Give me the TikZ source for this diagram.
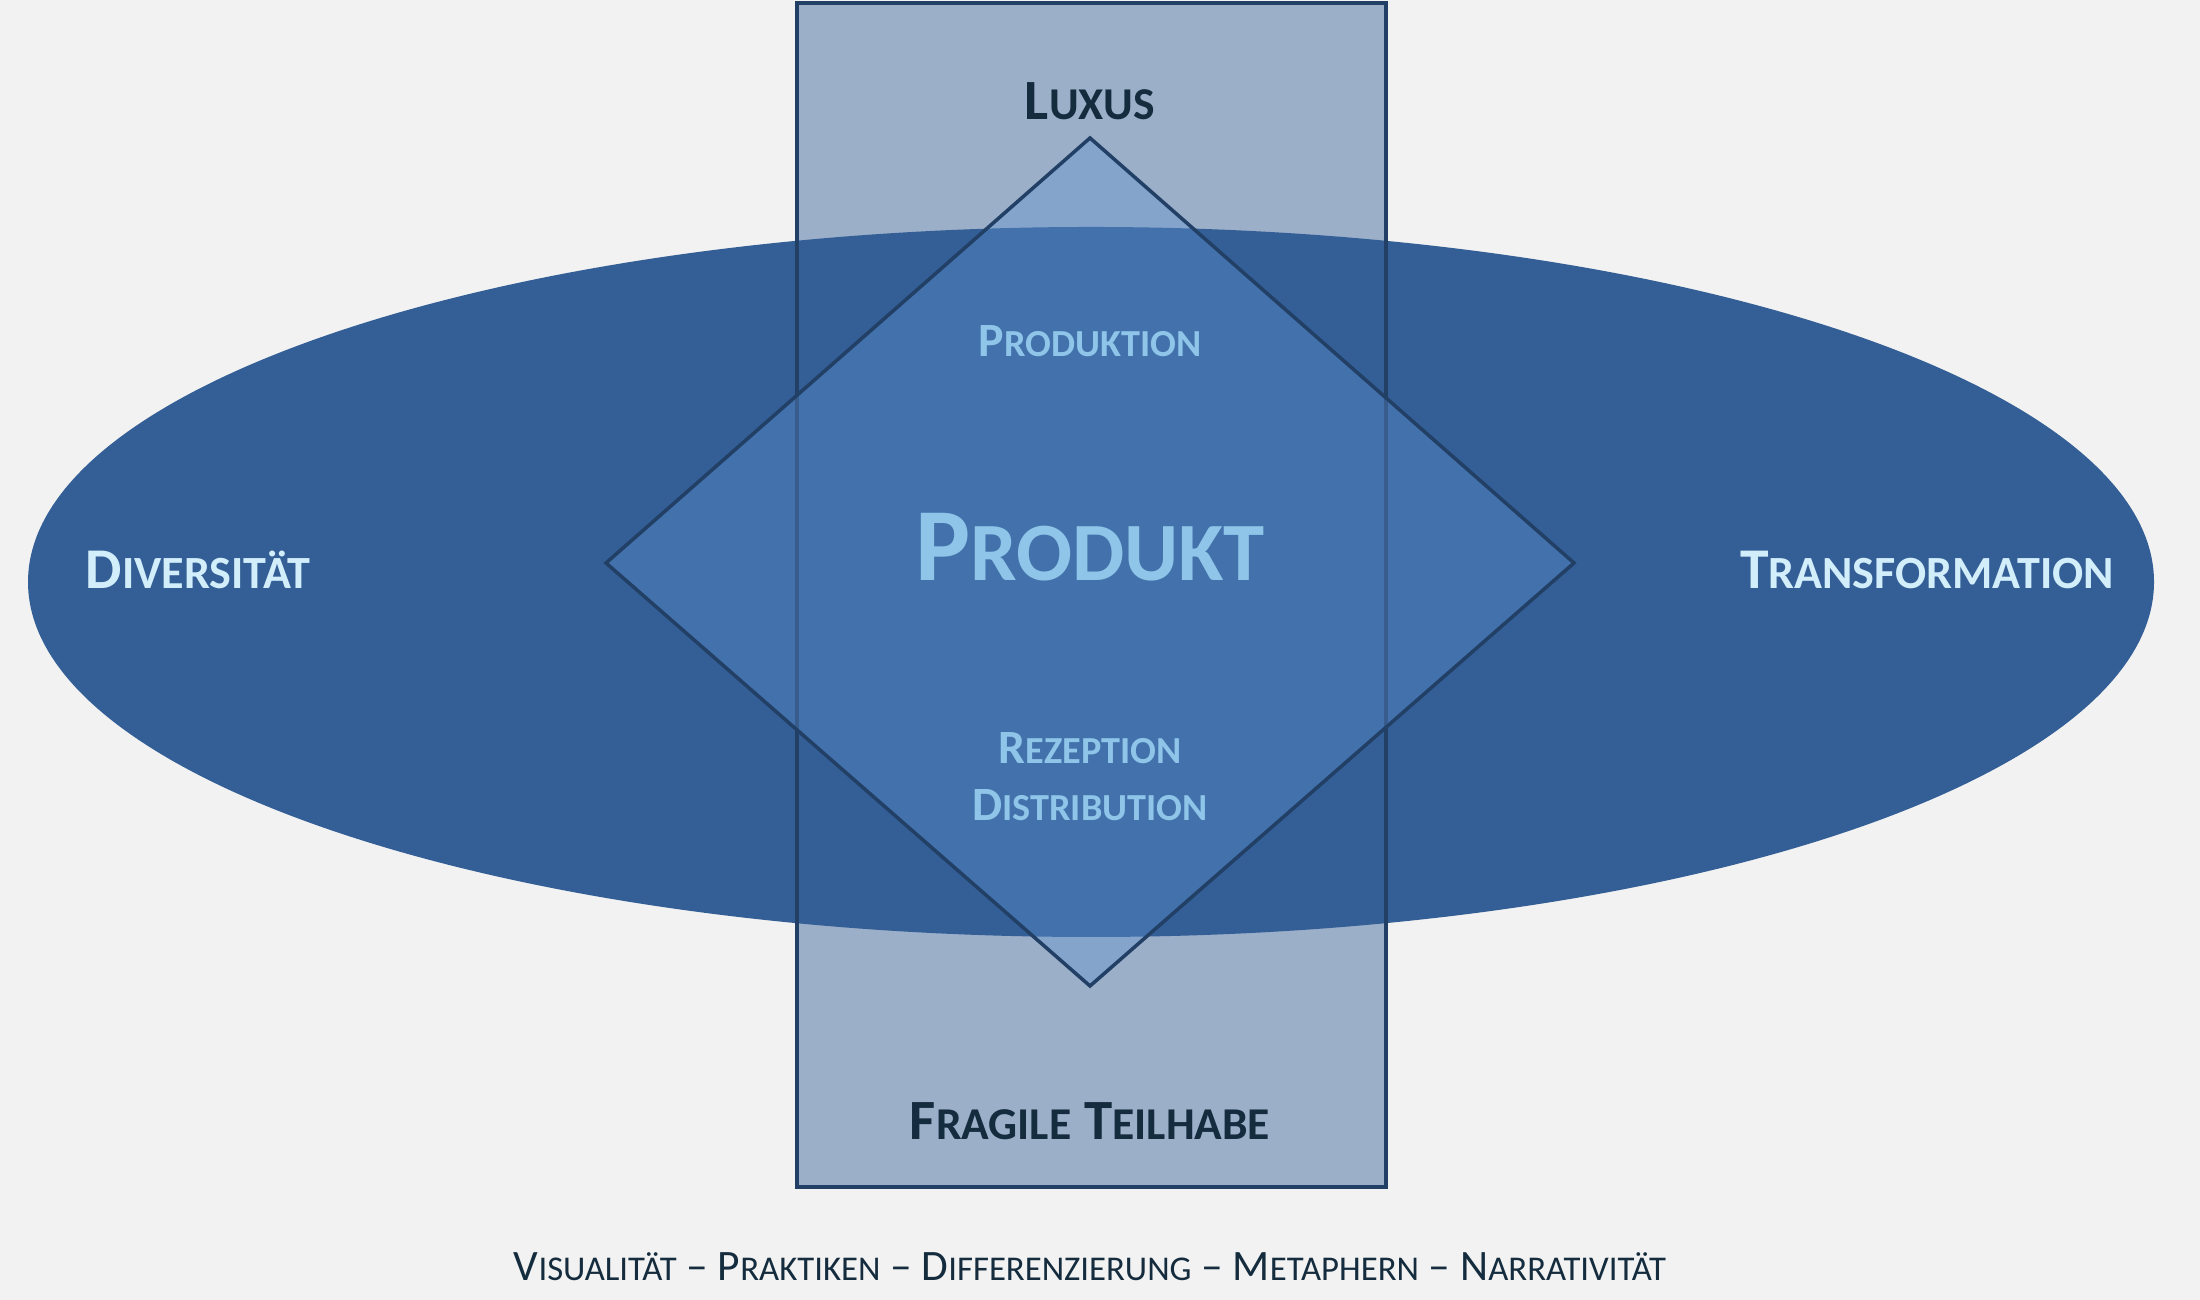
\documentclass[tikz,border=0pt]{standalone}
\usepackage{fontspec}
\setmainfont{Carlito}
\usetikzlibrary{backgrounds}
\definecolor{prodbg}{HTML}{F2F2F2}
\definecolor{prodgray}{HTML}{9BAFC9}
\definecolor{prodnavy}{HTML}{223F66}
\definecolor{prodblue}{HTML}{345F96}
\definecolor{prodsky}{HTML}{5E92D1}
\definecolor{proddark}{HTML}{142C3D}
\definecolor{prodlight}{HTML}{8EC5E8}
\definecolor{prodpale}{HTML}{D3EEFB}

% Kapitaelchen von Hand: grosser Anfangsbuchstabe, Rest verkleinert
\newcommand{\kap}[2]{#1\scalebox{0.8}{#2}}

\tikzset{
    darklabel/.style={font=\bfseries\fontsize{16.2}{19}\selectfont, text=proddark},
    innerlabel/.style={font=\bfseries\fontsize{13.6}{16}\selectfont, text=prodlight},
    outerlabel/.style={font=\bfseries\fontsize{16.4}{20}\selectfont, text=prodpale}
}

\begin{document}
\begin{tikzpicture}

\useasboundingbox (0,0) rectangle (22,13);
\fill[prodbg] (0,0) rectangle (22,13);

% === Rechteck (Luxus / Fragile Teilhabe) ===
\coordinate (r1) at (7.97, 1.13);
\coordinate (r2) at (13.86, 12.97);
\fill[prodgray] (r1) rectangle (r2);

% === Ellipse ===
\coordinate (e) at (10.91, 7.18);
\fill[prodblue] (e) ellipse [x radius=10.63, y radius=3.55];

% Rahmen des Rechtecks ueber der Ellipse
\draw[prodnavy, line width=1pt] (r1) rectangle (r2);

% === Raute (Produkt) ===
\coordinate (dn) at (10.90, 11.62);
\coordinate (de) at (15.74, 7.37);
\coordinate (ds) at (10.90, 3.14);
\coordinate (dw) at (6.06, 7.37);
\fill[prodsky, opacity=0.37] (dn) -- (de) -- (ds) -- (dw) -- cycle;
\draw[prodnavy, line width=1pt, line join=miter] (dn) -- (de) -- (ds) -- (dw) -- cycle;

% === Beschriftungen ===
\node[darklabel] (luxus) at (10.90, 11.99) {\kap{L}{UXUS}};
\node[darklabel] (teilhabe) at (10.90, 1.79) {\kap{F}{RAGILE} \kap{T}{EILHABE}};

\node[innerlabel] (produktion) at (10.90, 9.59) {\kap{P}{RODUKTION}};
\node[font=\bfseries\fontsize{29.5}{34}\selectfont, text=prodlight] (produkt) at (10.90, 7.53) {\kap{P}{RODUKT}};
\node[innerlabel] (rezeption) at (10.90, 5.52) {\kap{R}{EZEPTION}};
\node[innerlabel] (distribution) at (10.90, 4.95) {\kap{D}{ISTRIBUTION}};

\node[outerlabel] (diversitaet) at (1.98, 7.30) {\kap{D}{IVERSITÄT}};
\node[outerlabel] (transformation) at (19.27, 7.30) {\kap{T}{RANSFORMATION}};

\node[font=\fontsize{12.35}{15}\selectfont, text=proddark] (leiste) at (10.90, 0.33)
    {\kap{V}{ISUALITÄT} -- \kap{P}{RAKTIKEN} -- \kap{D}{IFFERENZIERUNG} -- \kap{M}{ETAPHERN} -- \kap{N}{ARRATIVITÄT}};

\end{tikzpicture}
\end{document}
